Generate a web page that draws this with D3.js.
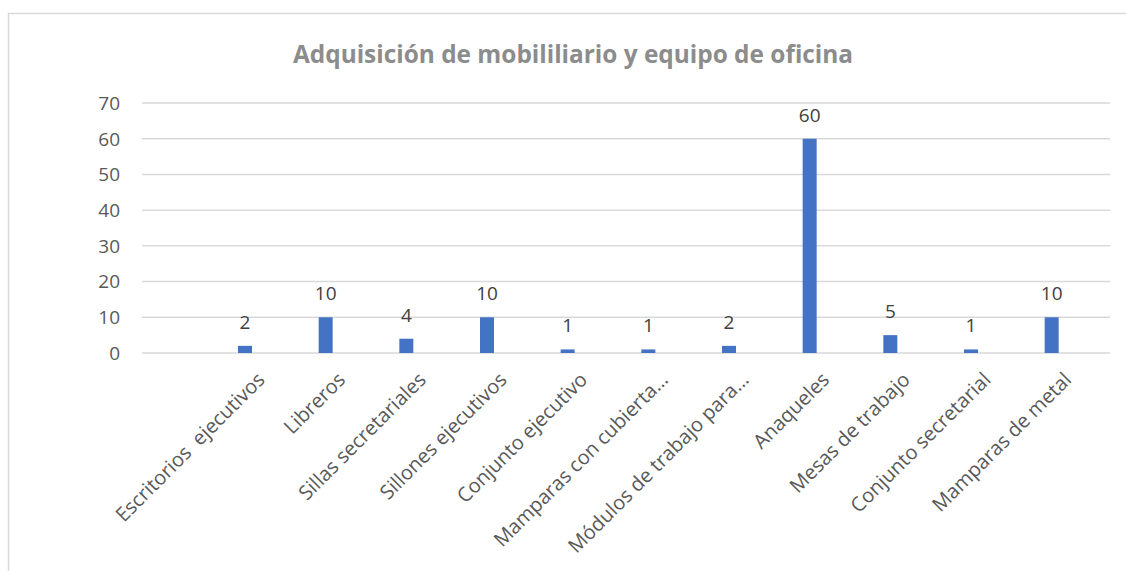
<!DOCTYPE html>
<html>
<head>
<meta charset="utf-8">
<script src="https://cdn.jsdelivr.net/npm/d3@7"></script>
<style>
  body { margin: 0; background: #fff; }
  text { font-family: "Open Sans", "Noto Sans", sans-serif; white-space: pre; }
</style>
</head>
<body>
<div id="chart"></div>
<script>
// chart data
var title = "Adquisición de mobililiario y equipo de oficina";
// first slot is an empty row in the sheet
var categories = ["", "Escritorios  ejecutivos", "Libreros", "Sillas secretariales", "Sillones ejecutivos",
  "Conjunto ejecutivo", "Mamparas con cubierta…", "Módulos de trabajo para…", "Anaqueles",
  "Mesas de trabajo", "Conjunto secretarial", "Mamparas de metal"];
var values = [null, 2, 10, 4, 10, 1, 1, 2, 60, 5, 1, 10];
var yTicks = [0, 10, 20, 30, 40, 50, 60, 70];

var w = 1126, h = 571;
var plotLeft = 142, plotRight = 1110, plotTop = 103, plotBottom = 353;

var svg = d3.select("#chart").append("svg")
  .attr("width", w).attr("height", h);

// chart area border
svg.append("rect")
  .attr("x", 8.5).attr("y", 13.5)
  .attr("width", w + 10).attr("height", h + 10)
  .attr("fill", "none").attr("stroke", "#d9d9d9").attr("stroke-width", 1.5);

svg.append("text")
  .attr("x", 573).attr("y", 63)
  .attr("text-anchor", "middle")
  .attr("font-size", 24.4).attr("font-weight", "bold")
  .attr("fill", "#8c8c8c")
  .text(title);

var x = d3.scaleBand().domain(d3.range(categories.length)).range([plotLeft, plotRight]);
var y = d3.scaleLinear().domain([0, 70]).range([plotBottom, plotTop]);

// gridlines
svg.append("g").selectAll("line")
  .data(yTicks).enter().append("line")
  .attr("x1", plotLeft).attr("x2", plotRight)
  .attr("y1", function(d) { return y(d); })
  .attr("y2", function(d) { return y(d); })
  .attr("stroke", "#d9d9d9").attr("stroke-width", 1.5);

// y tick labels
svg.append("g").selectAll("text")
  .data(yTicks).enter().append("text")
  .attr("x", 120).attr("y", function(d) { return y(d); })
  .attr("dy", "0.36em")
  .attr("text-anchor", "end")
  .attr("font-size", 19).attr("fill", "#595959")
  .text(function(d) { return d; });

// bar sits left of the band centre (clustered series)
var barW = 14;
function barX(i) { return x(i) + x.bandwidth() * 0.19; }

var bars = values.map(function(v, i) { return {i: i, v: v}; })
  .filter(function(d) { return d.v != null; });

svg.append("g").selectAll("rect")
  .data(bars).enter().append("rect")
  .attr("x", function(d) { return barX(d.i); })
  .attr("y", function(d) { return y(d.v); })
  .attr("width", barW)
  .attr("height", function(d) { return plotBottom - y(d.v); })
  .attr("fill", "#4472c4");

// value labels
svg.append("g").selectAll("text")
  .data(bars).enter().append("text")
  .attr("x", function(d) { return barX(d.i) + barW / 2; })
  .attr("y", function(d) { return y(d.v) - 17; })
  .attr("text-anchor", "middle")
  .attr("font-size", 19).attr("fill", "#404040")
  .text(function(d) { return d.v; });

// category labels, rotated
svg.append("g").selectAll("text")
  .data(categories).enter().append("text")
  .attr("transform", function(d, i) {
    return "translate(" + (x(i) + x.bandwidth() / 2 - 2) + "," + 376 + ") rotate(-45)";
  })
  .attr("text-anchor", "end")
  .attr("dy", "0.35em")
  .attr("font-size", 20).attr("fill", "#595959")
  .text(function(d) { return d; });
</script>
</body>
</html>
